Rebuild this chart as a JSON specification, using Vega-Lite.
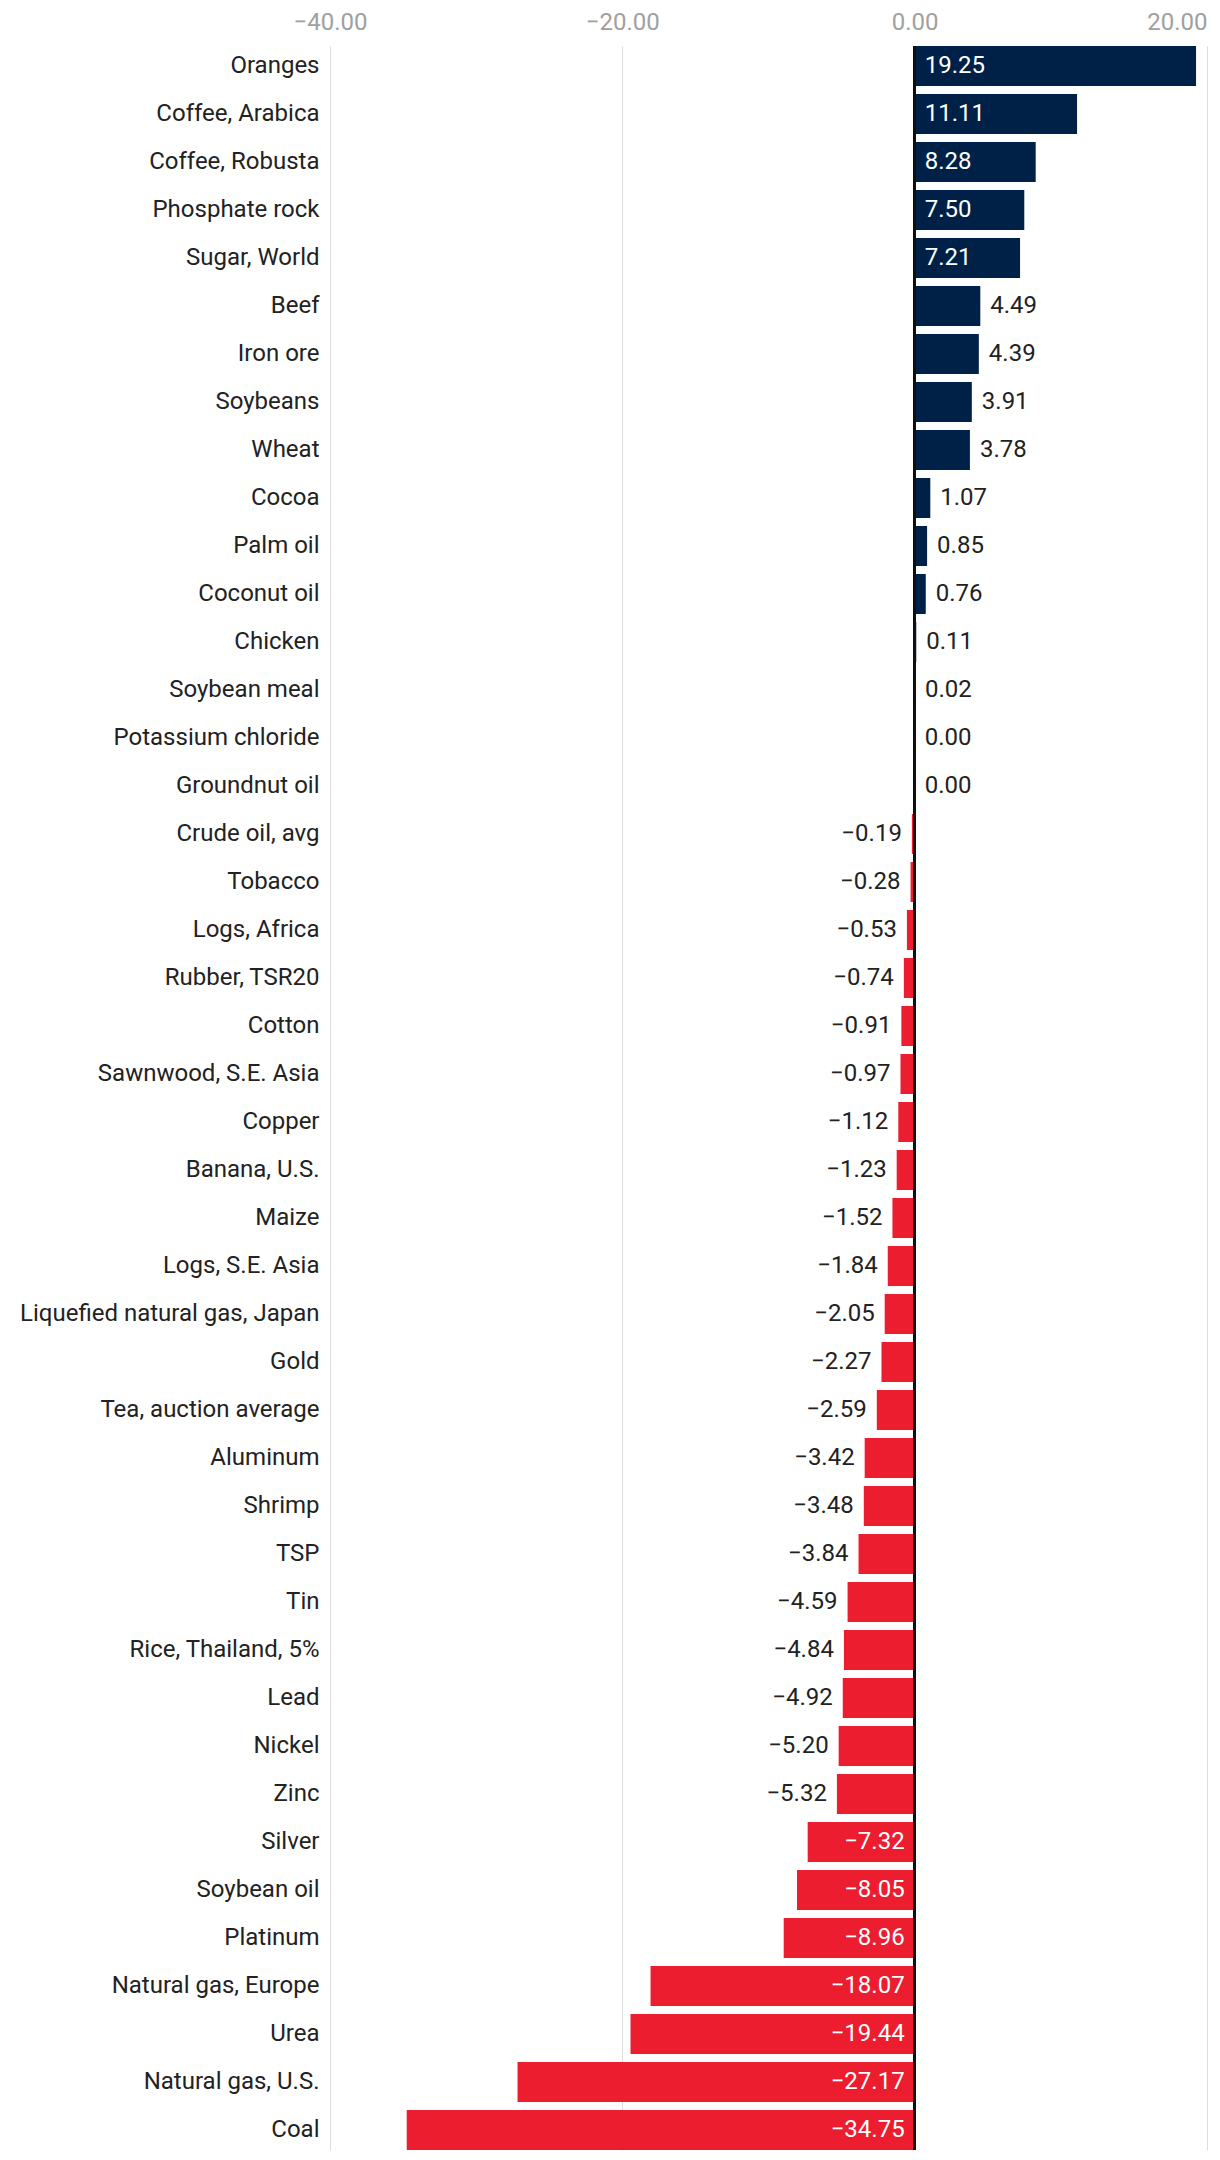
{
  "$schema": "https://vega.github.io/schema/vega-lite/v6.json",
  "autosize": "none",
  "width": 877,
  "height": 2104,
  "padding": {"left": 330, "top": 46, "right": 13, "bottom": 10},
  "background": "white",
  "config": {
    "font": "Roboto",
    "view": {"stroke": null}
  },
  "data": {
    "values": [
      {"commodity": "Oranges", "value": 19.25},
      {"commodity": "Coffee, Arabica", "value": 11.11},
      {"commodity": "Coffee, Robusta", "value": 8.28},
      {"commodity": "Phosphate rock", "value": 7.50},
      {"commodity": "Sugar, World", "value": 7.21},
      {"commodity": "Beef", "value": 4.49},
      {"commodity": "Iron ore", "value": 4.39},
      {"commodity": "Soybeans", "value": 3.91},
      {"commodity": "Wheat", "value": 3.78},
      {"commodity": "Cocoa", "value": 1.07},
      {"commodity": "Palm oil", "value": 0.85},
      {"commodity": "Coconut oil", "value": 0.76},
      {"commodity": "Chicken", "value": 0.11},
      {"commodity": "Soybean meal", "value": 0.02},
      {"commodity": "Potassium chloride", "value": 0.00},
      {"commodity": "Groundnut oil", "value": 0.00},
      {"commodity": "Crude oil, avg", "value": -0.19},
      {"commodity": "Tobacco", "value": -0.28},
      {"commodity": "Logs, Africa", "value": -0.53},
      {"commodity": "Rubber, TSR20", "value": -0.74},
      {"commodity": "Cotton", "value": -0.91},
      {"commodity": "Sawnwood, S.E. Asia", "value": -0.97},
      {"commodity": "Copper", "value": -1.12},
      {"commodity": "Banana, U.S.", "value": -1.23},
      {"commodity": "Maize", "value": -1.52},
      {"commodity": "Logs, S.E. Asia", "value": -1.84},
      {"commodity": "Liquefied natural gas, Japan", "value": -2.05},
      {"commodity": "Gold", "value": -2.27},
      {"commodity": "Tea, auction average", "value": -2.59},
      {"commodity": "Aluminum", "value": -3.42},
      {"commodity": "Shrimp", "value": -3.48},
      {"commodity": "TSP", "value": -3.84},
      {"commodity": "Tin", "value": -4.59},
      {"commodity": "Rice, Thailand, 5%", "value": -4.84},
      {"commodity": "Lead", "value": -4.92},
      {"commodity": "Nickel", "value": -5.20},
      {"commodity": "Zinc", "value": -5.32},
      {"commodity": "Silver", "value": -7.32},
      {"commodity": "Soybean oil", "value": -8.05},
      {"commodity": "Platinum", "value": -8.96},
      {"commodity": "Natural gas, Europe", "value": -18.07},
      {"commodity": "Urea", "value": -19.44},
      {"commodity": "Natural gas, U.S.", "value": -27.17},
      {"commodity": "Coal", "value": -34.75}
    ]
  },
  "encoding": {
    "y": {
      "field": "commodity",
      "type": "nominal",
      "sort": null,
      "scale": {"paddingInner": 0.1667, "paddingOuter": 0},
      "axis": {
        "title": null,
        "ticks": false,
        "domain": false,
        "labelFontSize": 24,
        "labelColor": "#222222",
        "labelPadding": 11,
        "labelLimit": 400
      }
    }
  },
  "layer": [
    {
      "mark": {"type": "bar"},
      "encoding": {
        "x": {
          "field": "value",
          "type": "quantitative",
          "scale": {"domain": [-40, 20], "nice": false, "zero": false},
          "axis": {
            "orient": "top",
            "title": null,
            "values": [-40, -20, 0, 20],
            "format": ".2f",
            "ticks": false,
            "domain": false,
            "grid": true,
            "gridColor": "#dddddd",
            "gridWidth": 1,
            "labelFlush": false,
            "labelOverlap": false,
            "labelAlign": {"condition": {"test": "datum.value >= 20", "value": "right"}, "value": "center"},
            "labelFontSize": 24,
            "labelColor": "#a0a0a0",
            "labelPadding": 12
          }
        },
        "color": {
          "condition": {"test": "datum.value >= 0", "value": "#002147"},
          "value": "#EC1D2F"
        }
      }
    },
    {
      "mark": {"type": "rule", "color": "#111111", "strokeWidth": 1.5},
      "encoding": {"x": {"datum": 0, "type": "quantitative"}, "y": null}
    },
    {
      "transform": [{"filter": "datum.value >= 6"}],
      "mark": {"type": "text", "align": "left", "dx": 10, "fontSize": 24, "color": "white", "baseline": "middle"},
      "encoding": {
        "x": {"datum": 0, "type": "quantitative"},
        "text": {"field": "value", "type": "quantitative", "format": ".2f"}
      }
    },
    {
      "transform": [{"filter": "datum.value <= -6"}],
      "mark": {"type": "text", "align": "right", "dx": -10, "fontSize": 24, "color": "white", "baseline": "middle"},
      "encoding": {
        "x": {"datum": 0, "type": "quantitative"},
        "text": {"field": "value", "type": "quantitative", "format": ".2f"}
      }
    },
    {
      "transform": [{"filter": "datum.value >= 0 && datum.value < 6"}],
      "mark": {"type": "text", "align": "left", "dx": 10, "fontSize": 24, "color": "#222222", "baseline": "middle"},
      "encoding": {
        "x": {"field": "value", "type": "quantitative"},
        "text": {"field": "value", "type": "quantitative", "format": ".2f"}
      }
    },
    {
      "transform": [{"filter": "datum.value < 0 && datum.value > -6"}],
      "mark": {"type": "text", "align": "right", "dx": -10, "fontSize": 24, "color": "#222222", "baseline": "middle"},
      "encoding": {
        "x": {"field": "value", "type": "quantitative"},
        "text": {"field": "value", "type": "quantitative", "format": ".2f"}
      }
    }
  ]
}
